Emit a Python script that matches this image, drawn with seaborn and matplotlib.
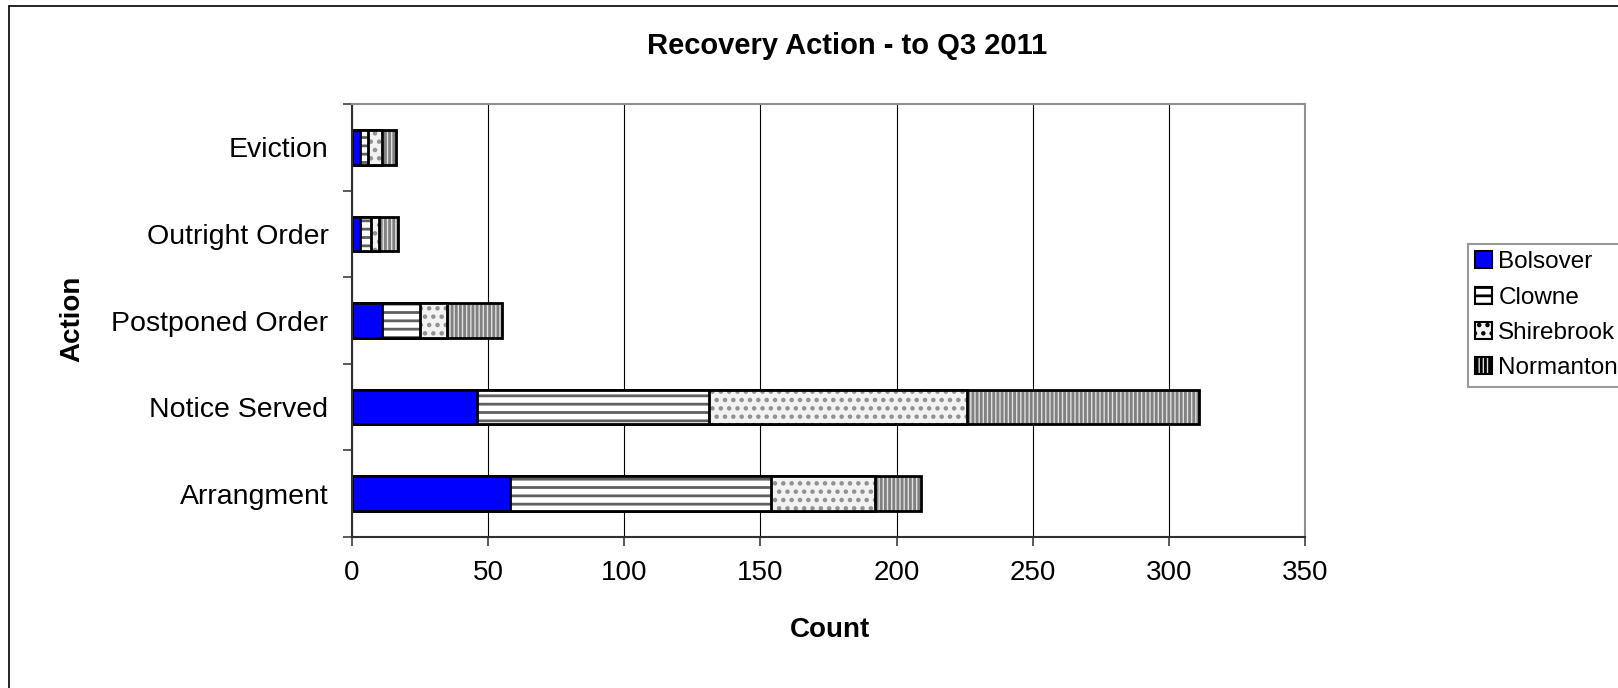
import matplotlib
matplotlib.use('Agg')
import matplotlib.pyplot as plt
import seaborn as sns
import pandas as pd
from matplotlib.patches import Patch
from matplotlib.lines import Line2D

actions = ['Eviction', 'Outright Order', 'Postponed Order', 'Notice Served', 'Arrangment']
areas = ['Bolsover', 'Clowne', 'Shirebrook', 'Normanton']
bolsover = [3, 3, 11, 46, 58]
clowne = [3, 4, 14, 85, 96]
shirebrook = [5, 3, 10, 95, 38]
normanton = [5, 7, 20, 85, 17]

# face colour, hatch, hatch colour
styles = {
    'Bolsover': ('#0000ff', '', '#0000ff'),
    'Clowne': ('#ffffff', '--', '#606060'),
    'Shirebrook': ('#f2f2f2', '..', '#909090'),
    'Normanton': ('#e0e0e0', '||||', '#808080'),
}

df = pd.DataFrame({'Action': actions, 'Bolsover': bolsover, 'Clowne': clowne,
                   'Shirebrook': shirebrook, 'Normanton': normanton})
cum = df[areas].cumsum(axis=1)

sns.set_theme(style='white')
plt.rcParams['font.family'] = ['Liberation Sans', 'DejaVu Sans']
plt.rcParams['hatch.linewidth'] = 2.0
plt.rcParams['text.color'] = 'black'

fig = plt.figure(figsize=(16.18, 6.88), dpi=100)
ax = fig.add_axes([352 / 1618, 1 - 537 / 688, (1305 - 352) / 1618, (537 - 104) / 688])

# draw totals first, then each smaller cumulative sum on top
for area in reversed(areas):
    face, hatch, hcol = styles[area]
    n0 = len(ax.patches)
    sns.barplot(x=cum[area], y=df['Action'], orient='y', color=face, width=0.4,
                saturation=1, errorbar=None, ax=ax)
    for p in ax.patches[n0:]:
        p.set_facecolor(face)
        p.set_edgecolor(hcol)
        p.set_hatch(hatch)
        p.set_linewidth(0)
    n1 = len(ax.patches)
    sns.barplot(x=cum[area], y=df['Action'], orient='y', color=face, width=0.4,
                saturation=1, errorbar=None, ax=ax)
    for p in ax.patches[n1:]:
        p.set_facecolor('none')
        p.set_edgecolor('black')
        p.set_linewidth(2)

ax.set_xlim(0, 350)
ax.set_ylim(4.5, -0.5)
ax.set_xticks(range(0, 351, 50))
ax.set_yticks([i - 0.5 for i in range(6)])
ax.set_yticklabels([])
ax.set_yticks(range(5), minor=True)
ax.set_yticklabels(actions, minor=True)
ax.tick_params(axis='y', which='major', length=6.5, width=1.2, color='#404040', left=True)
ax.tick_params(axis='y', which='minor', length=0, labelsize=20.5, pad=17, labelcolor='black')
ax.tick_params(axis='x', length=6.5, width=1.2, color='#404040', bottom=True, labelsize=20,
               pad=10, labelcolor='black')
ax.xaxis.grid(True, color='black', linewidth=0.8)
ax.set_axisbelow(True)
for s in ['left', 'bottom']:
    ax.spines[s].set_color('#303030')
    ax.spines[s].set_linewidth(1.5)
for s in ['top', 'right']:
    ax.spines[s].set_color('#909090')
    ax.spines[s].set_linewidth(1.5)

ax.set_xlabel('')
ax.set_ylabel('')
fig.text(830 / 1618, 1 - 630 / 688, 'Count', ha='center', va='center', fontsize=20,
         fontweight='bold', color='black')
fig.text(72 / 1618, 1 - 319 / 688, 'Action', ha='center', va='center', rotation=90,
         fontsize=20, fontweight='bold', color='black')
fig.text(847 / 1618, 1 - 46 / 688, 'Recovery Action - to Q3 2011', ha='center', va='center',
         fontsize=21, fontweight='bold', color='black')

handles = [Patch(facecolor=styles[a][0], hatch=styles[a][1], edgecolor='black', linewidth=1.5)
           for a in areas]
leg = fig.legend(handles, areas, loc='upper left', bbox_to_anchor=(1468 / 1618, 1 - 244 / 688),
                 fontsize=17.5, frameon=True, fancybox=False, edgecolor='#808080',
                 handlelength=0.7, handleheight=0.7, handletextpad=0.25, labelspacing=0.55,
                 borderpad=0.3, borderaxespad=0)
leg.get_frame().set_linewidth(1.5)
for t in leg.get_texts():
    t.set_color('black')

# outer chart border (top and left visible)
fig.add_artist(Line2D([9 / 1618, 1], [1 - 6 / 688, 1 - 6 / 688], color='black', linewidth=1.2))
fig.add_artist(Line2D([9 / 1618, 9 / 1618], [0, 1 - 6 / 688], color='black', linewidth=1.2))

fig.savefig('out.png', dpi=100)
